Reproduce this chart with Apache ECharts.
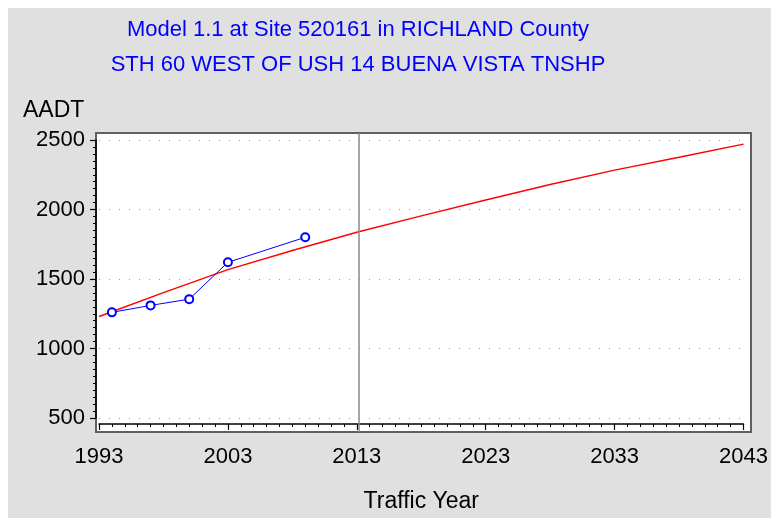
<!DOCTYPE html>
<html>
<head>
<meta charset="utf-8">
<script src="https://cdn.jsdelivr.net/npm/echarts@6/dist/echarts.min.js"></script>
<style>
html,body{margin:0;padding:0;background:#ffffff;width:771px;height:518px;overflow:hidden;}
#chart{position:absolute;left:8px;top:8px;width:763px;height:510px;}
</style>
</head>
<body>
<div id="chart"></div>
<script>
// ---- data ----
var titleLine1 = 'Model 1.1 at Site 520161 in RICHLAND County';
var titleLine2 = 'STH 60 WEST OF USH 14 BUENA VISTA TNSHP';
var yAxisTitle = 'AADT';
var xAxisTitle = 'Traffic Year';

var observedYears = [1994, 1997, 2000, 2003, 2009];
var observedAADT  = [1260, 1310, 1355, 1620, 1800];

var modelYears = [1993, 1998, 2003, 2008, 2013, 2018, 2023, 2028, 2033, 2038, 2043];
var modelAADT  = [1230, 1402, 1568, 1705, 1836, 1954, 2068, 2180, 2283, 2376, 2470];

var currentYear = 2013;
var xMin = 1993, xMax = 2043, xStep = 10;
var yMin = 500, yMax = 2500, yStep = 500;

// ---- chart ----
var FONT = '"Liberation Sans", Arial, sans-serif';
var chart = echarts.init(document.getElementById('chart'), null, {renderer: 'canvas'});

function pairs(xs, ys) { return xs.map(function (x, i) { return [x, ys[i]]; }); }
function plain(v) { return String(v); }

// frame is 3px wider than the data range on the left/right (13px per year)
var padX = 3 / 13;

var option = {
  animation: false,
  backgroundColor: '#e0e0e0',
  grid: [
    {left: 88, top: 125, width: 655, height: 299, show: true,
     backgroundColor: '#ffffff', borderColor: '#606060', borderWidth: 2, z: 0},
    {left: 91, top: 132, width: 649, height: 286, show: false}
  ],
  xAxis: [
    {type: 'value', gridIndex: 0, min: xMin - padX, max: xMax + padX, show: false},
    {type: 'value', gridIndex: 1, min: xMin, max: xMax, interval: xStep, offset: 6,
     axisLine: {show: true, onZero: false, lineStyle: {color: '#000', width: 1.5}},
     axisTick: {show: true, length: 6, lineStyle: {color: '#000', width: 1.2}},
     minorTick: {show: true, splitNumber: 10, length: 3, lineStyle: {color: '#000', width: 1}},
     splitLine: {show: false},
     axisLabel: {color: '#000', fontFamily: FONT, fontSize: 22, margin: 22, formatter: plain},
     name: xAxisTitle, nameLocation: 'middle', nameGap: 66,
     nameTextStyle: {color: '#000', fontFamily: FONT, fontSize: 23}}
  ],
  yAxis: [
    {type: 'value', gridIndex: 0, min: 0, max: 1, show: false},
    {type: 'value', gridIndex: 1, min: yMin, max: yMax, interval: yStep, offset: 3,
     axisLine: {show: true, onZero: false, lineStyle: {color: '#000', width: 1.5}},
     axisTick: {show: true, length: 6, lineStyle: {color: '#000', width: 1.2}},
     minorTick: {show: true, splitNumber: 10, length: 3, lineStyle: {color: '#000', width: 1}},
     splitLine: {show: true, lineStyle: {color: '#9a9a9a', width: 1, type: [1, 9]}},
     axisLabel: {color: '#000', fontFamily: FONT, fontSize: 22, margin: 11, formatter: plain}}
  ],
  graphic: [
    {type: 'text', x: 350, y: 22, style: {text: titleLine1, fill: '#0000ff', font: '22px ' + FONT, align: 'center', verticalAlign: 'middle'}},
    {type: 'text', x: 350, y: 57, style: {text: titleLine2, fill: '#0000ff', font: '22px ' + FONT, align: 'center', verticalAlign: 'middle'}},
    {type: 'text', x: 15, y: 103, style: {text: yAxisTitle, fill: '#000', font: '23px ' + FONT, align: 'left', verticalAlign: 'middle'}}
  ],
  series: [
    {type: 'line', xAxisIndex: 0, yAxisIndex: 0, data: [[currentYear, 0.5]],
     showSymbol: false, symbol: 'none', lineStyle: {opacity: 0}, silent: true,
     markLine: {silent: true, symbol: 'none', label: {show: false},
       lineStyle: {color: '#8a8a8a', width: 1.5, type: 'solid'},
       data: [{xAxis: currentYear}]}},
    {type: 'line', xAxisIndex: 1, yAxisIndex: 1, data: pairs(modelYears, modelAADT),
     symbol: 'none', smooth: false,
     lineStyle: {color: '#ff0000', width: 1.4}, z: 3},
    {type: 'line', xAxisIndex: 1, yAxisIndex: 1, data: pairs(observedYears, observedAADT),
     symbol: 'emptyCircle', symbolSize: 8, showSymbol: true,
     itemStyle: {color: '#0000ff', borderColor: '#0000ff', borderWidth: 1.2},
     lineStyle: {color: '#0000ff', width: 1}, z: 4}
  ]
};
chart.setOption(option);
</script>
</body>
</html>
